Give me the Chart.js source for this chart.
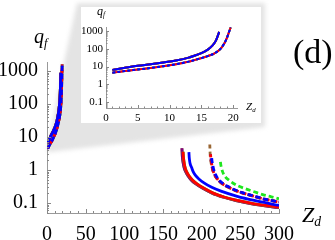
<!DOCTYPE html>
<html>
<head>
<meta charset="utf-8">
<script src="https://cdn.jsdelivr.net/npm/chart.js@4/dist/chart.umd.min.js"></script>
<style>
  body { margin: 0; background: #fff; }
  #wrap { position: relative; width: 335px; height: 240px; overflow: hidden; font-family: "Liberation Serif", serif; }
  #main { position: absolute; left: 0; top: 0; }
  #inset { position: absolute; left: 81px; top: 7px; background: #fff; }
  .lbl { position: absolute; line-height: 1; white-space: nowrap; color: #000; }
  .lbl sub { font-size: 0.62em; vertical-align: baseline; position: relative; top: 0.3em; }
</style>
</head>
<body>
<div id="wrap">
  <canvas id="main" width="335" height="240"></canvas>
  <canvas id="inset" width="180" height="116"></canvas>
  <div class="lbl" style="left:34px; top:26px; font-size:20px;"><i>q</i><sub><i>f</i></sub></div>
  <div class="lbl" style="left:302px; top:204px; font-size:22px;"><i>Z</i><sub><i>d</i></sub></div>
  <div class="lbl" style="left:293px; top:35px; font-size:34px;">(d)</div>
  <div class="lbl" style="left:97px; top:5px; font-size:12px;"><i>q</i><sub><i>f</i></sub></div>
  <div class="lbl" style="left:246px; top:101px; font-size:11px;"><i>Z</i><sub><i>d</i></sub></div>
</div>
<script>
// tick labels
const xTickLabels = [0, 50, 100, 150, 200, 250, 300];
const xTickLabelsInset = [0, 5, 10, 15, 20];
const yTickLabels = [0.1, 1, 10, 100, 1000];

// small-Z branch (same in main plot and inset)
const zLeftSolid = [1, 3, 5, 7, 9, 11, 13, 14, 15, 16, 16.8, 17.3, 17.8];
const qLeftSolid = [6.5, 8.5, 11, 13.5, 17, 22, 32, 42, 57, 90, 160, 300, 900];
const zLeftDashed = [1, 3, 5, 7, 9, 11, 13, 15, 16, 17, 18, 18.6, 19, 19.3, 19.6];
const qLeftDashed = [4.5, 5.6, 6.8, 8.3, 10.5, 13.5, 19, 30, 39, 54, 100, 200, 400, 800, 1600];

// large-Z branches
const zRedSolid = [176, 176.5, 177.5, 179, 181, 184, 188, 194, 203, 215, 230, 246, 268, 300];
const qRedSolid = [3.6, 2.4, 1.6, 1.1, 0.85, 0.65, 0.5, 0.38, 0.28, 0.2, 0.15, 0.12, 0.095, 0.076];
const zPurpleSolid = [174.5, 175, 176, 177.5, 179.5, 182.5, 186.5, 192.5, 201.5, 213.5, 228.5, 244.5, 266.5, 300];
const qPurpleSolid = [4.6, 2.6, 1.7, 1.15, 0.88, 0.66, 0.5, 0.38, 0.28, 0.2, 0.15, 0.118, 0.093, 0.073];
const zBlueSolid = [183.5, 184, 185, 187, 189, 192, 196, 203, 213, 225, 246, 268, 300];
const qBlueSolid = [3.5, 2.3, 1.6, 1.2, 0.9, 0.69, 0.55, 0.41, 0.3, 0.23, 0.16, 0.12, 0.085];
const zRedDashed = [211.5, 212, 213, 214, 216, 220, 226, 235, 246, 257, 268, 279, 290, 300];
const qRedDashed = [3, 2.2, 1.5, 1.1, 0.8, 0.55, 0.4, 0.3, 0.23, 0.19, 0.16, 0.135, 0.12, 0.107];
const zBlueDashed = [213, 213.5, 214.5, 215.5, 217.5, 221, 227, 236, 247, 258, 269, 280, 290, 300];
const qBlueDashed = [2.3, 1.8, 1.35, 1.05, 0.78, 0.55, 0.4, 0.3, 0.23, 0.19, 0.16, 0.135, 0.12, 0.108];
const zBrownDashed = [210.5, 211, 212, 213.5, 215.5, 219.5, 225.5, 234.5, 245.5, 256.5, 267.5, 278.5, 289.5, 300];
const qBrownDashed = [6, 3, 1.8, 1.2, 0.82, 0.56, 0.4, 0.3, 0.23, 0.19, 0.16, 0.135, 0.12, 0.106];
const zGreenDashed = [224, 224.5, 225.5, 227, 230, 235.5, 246, 257, 268, 279, 290, 300];
const qGreenDashed = [2.2, 1.6, 1.2, 0.9, 0.65, 0.49, 0.34, 0.27, 0.22, 0.18, 0.155, 0.135];

const blue = 'rgb(0,0,255)';
const red = 'rgb(255,0,0)';
const green = 'rgb(30,230,30)';
const purple = 'rgb(128,0,128)';
const brown = 'rgb(153,102,51)';

function pts(zs, qs) {
    return zs.map(function (z, i) { return {x: z, y: qs[i]}; });
}

// first in the list is drawn on top
const series = [
    {color: blue, dashed: false, z: zBlueSolid, q: qBlueSolid, off: 0},
    {color: blue, dashed: true, z: zBlueDashed, q: qBlueDashed, off: 0},
    {color: red, dashed: false, z: zRedSolid, q: qRedSolid, off: 0},
    {color: red, dashed: true, z: zRedDashed, q: qRedDashed, off: 2},
    {color: purple, dashed: true, z: zRedDashed, q: qRedDashed, off: 4},
    {color: green, dashed: true, z: zGreenDashed, q: qGreenDashed, off: 5},
    {color: green, dashed: false, z: zRedSolid, q: qRedSolid, off: 0},
    {color: purple, dashed: false, z: zPurpleSolid, q: qPurpleSolid, off: 0},
    {color: brown, dashed: true, z: zBrownDashed, q: qBrownDashed, off: 1},
    {color: brown, dashed: false, z: zPurpleSolid, q: qPurpleSolid, off: 0}
];

function makeDatasets(withRight, width, dash) {
    return series.map(function (s) {
        let left = s.dashed ? pts(zLeftDashed, qLeftDashed) : pts(zLeftSolid, qLeftSolid);
        let data = left;
        if (withRight) {
            data = left.concat([{x: 100, y: null}], pts(s.z, s.q));
        }
        return {
            data: data,
            borderColor: s.color,
            borderWidth: width,
            borderDash: s.dashed ? dash : [],
            borderDashOffset: s.off,
            pointRadius: 0,
            fill: false,
            spanGaps: false,
            cubicInterpolationMode: 'monotone'
        };
    });
}

function logTicks(min, max) {
    let out = [];
    [0.01, 0.1, 1, 10, 100, 1000].forEach(function (base) {
        for (let k = 1; k <= 9; k++) {
            let v = parseFloat((k * base).toPrecision(6));
            if (v >= min && v <= max) {
                out.push({value: v, major: k === 1});
            }
        }
    });
    return out;
}

function linTicks(max, step, majors) {
    let out = [];
    for (let v = 0; v <= max + 1e-9; v += step) {
        out.push({value: v, major: majors.includes(v)});
    }
    return out;
}

const inwardTicks = {
    id: 'inwardTicks',
    afterDraw(chart, args, opts) {
        const ctx = chart.ctx;
        const xs = chart.scales.x;
        const ys = chart.scales.y;
        const area = chart.chartArea;
        ctx.save();
        ctx.strokeStyle = opts.color;
        ctx.lineWidth = 1;
        ctx.beginPath();
        xs.ticks.forEach(function (t) {
            let px = Math.round(xs.getPixelForValue(t.value)) + 0.5;
            let len = t.major ? opts.major : opts.minor;
            ctx.moveTo(px, area.bottom);
            ctx.lineTo(px, area.bottom - len);
        });
        ys.ticks.forEach(function (t) {
            let py = Math.round(ys.getPixelForValue(t.value)) + 0.5;
            let len = t.major ? opts.major : opts.minor;
            ctx.moveTo(area.left, py);
            ctx.lineTo(area.left + len, py);
        });
        ctx.stroke();
        ctx.restore();
    }
};

// outer edge of the inset frame, in page pixels
const insetFrame = {left: 77, top: 3, right: 265, bottom: 127};

const zoomCone = {
    id: 'zoomCone',
    beforeDraw(chart) {
        const ctx = chart.ctx;
        const xs = chart.scales.x;
        const ys = chart.scales.y;
        ctx.save();
        ctx.filter = 'blur(2px)';
        ctx.fillStyle = '#e4e4e4';
        ctx.beginPath();
        ctx.moveTo(xs.getPixelForValue(0), ys.getPixelForValue(3.5));
        ctx.lineTo(xs.getPixelForValue(22), ys.getPixelForValue(1900));
        ctx.lineTo(insetFrame.left, insetFrame.top);
        ctx.lineTo(insetFrame.right, insetFrame.top);
        ctx.lineTo(insetFrame.right, insetFrame.bottom);
        ctx.closePath();
        ctx.fill();
        ctx.restore();
    }
};

const serif = '"Liberation Serif", "Times New Roman", serif';

new Chart(document.getElementById('main'), {
    type: 'line',
    data: {datasets: makeDatasets(true, 2.8, [5, 3])},
    options: {
        responsive: false,
        animation: false,
        devicePixelRatio: 1,
        layout: {padding: {top: 62, right: 56, left: 0, bottom: 0}},
        plugins: {
            legend: {display: false},
            tooltip: {enabled: false},
            inwardTicks: {major: 4, minor: 2, color: '#888'}
        },
        scales: {
            x: {
                type: 'linear',
                min: 0,
                max: 300,
                afterFit: function (s) { s.height = 27; },
                afterBuildTicks: function (s) { s.ticks = linTicks(300, 10, xTickLabels); },
                grid: {display: false, drawTicks: false},
                border: {display: true, color: '#999', width: 1},
                ticks: {
                    autoSkip: false,
                    maxRotation: 0,
                    padding: 10,
                    color: '#000',
                    font: {family: serif, size: 20},
                    callback: function (v) { return xTickLabels.includes(v) ? String(v) : ''; }
                }
            },
            y: {
                type: 'logarithmic',
                min: 0.05,
                max: 1900,
                afterFit: function (s) { s.width = 47; },
                afterBuildTicks: function (s) { s.ticks = logTicks(0.05, 1900); },
                grid: {display: false, drawTicks: false},
                border: {display: true, color: '#999', width: 1},
                ticks: {
                    autoSkip: false,
                    padding: 9,
                    color: '#000',
                    font: {family: serif, size: 20},
                    callback: function (v) { return yTickLabels.includes(v) ? String(v) : ''; }
                }
            }
        }
    },
    plugins: [zoomCone, inwardTicks]
});

new Chart(document.getElementById('inset'), {
    type: 'line',
    data: {datasets: makeDatasets(false, 2, [3, 2])},
    options: {
        responsive: false,
        animation: false,
        devicePixelRatio: 1,
        layout: {padding: {top: 20, right: 24, left: 0, bottom: 0}},
        plugins: {
            legend: {display: false},
            tooltip: {enabled: false},
            inwardTicks: {major: 3, minor: 1.5, color: '#888'}
        },
        scales: {
            x: {
                type: 'linear',
                min: 0,
                max: 20.6,
                afterFit: function (s) { s.height = 15; },
                afterBuildTicks: function (s) { s.ticks = linTicks(20, 1, xTickLabelsInset); },
                grid: {display: false, drawTicks: false},
                border: {display: true, color: '#999', width: 1},
                ticks: {
                    autoSkip: false,
                    maxRotation: 0,
                    padding: 4,
                    color: '#000',
                    font: {family: serif, size: 11},
                    callback: function (v) { return xTickLabelsInset.includes(v) ? String(v) : ''; }
                }
            },
            y: {
                type: 'logarithmic',
                min: 0.046,
                max: 1700,
                afterFit: function (s) { s.width = 25; },
                afterBuildTicks: function (s) { s.ticks = logTicks(0.046, 1700); },
                grid: {display: false, drawTicks: false},
                border: {display: true, color: '#999', width: 1},
                ticks: {
                    autoSkip: false,
                    padding: 3,
                    color: '#000',
                    font: {family: serif, size: 11},
                    callback: function (v) { return yTickLabels.includes(v) ? String(v) : ''; }
                }
            }
        }
    },
    plugins: [inwardTicks]
});
</script>
</body>
</html>
